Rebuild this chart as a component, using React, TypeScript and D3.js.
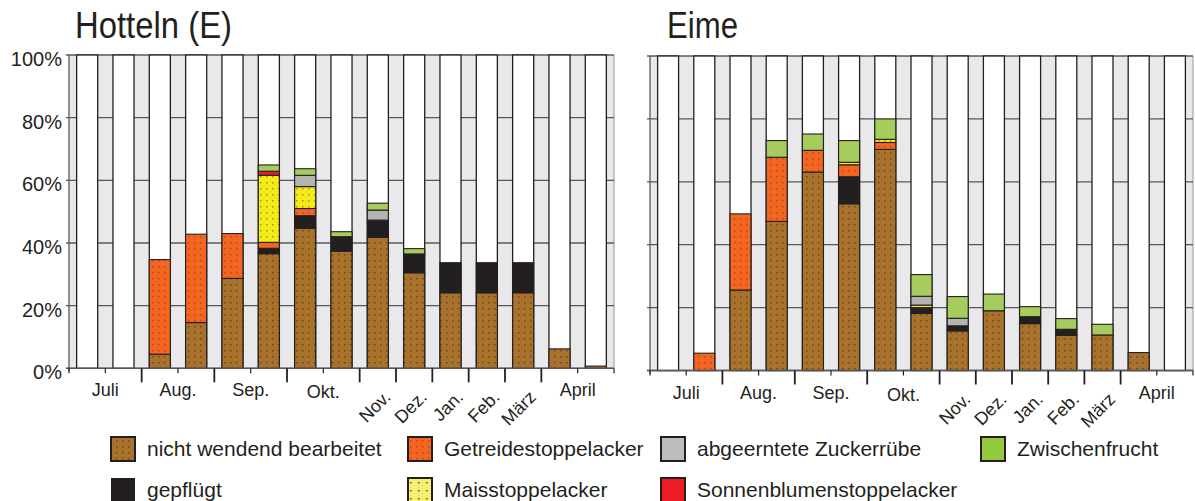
import * as d3 from "d3";
import { useEffect, useRef } from "react";

// 15 half-month bars per site, July .. April
const barIndex = d3.range(15)
const monthNames = ["Juli", "Aug.", "Sep.", "Okt.", "Nov.", "Dez.", "Jan.", "Feb.", "März", "April"]
const monthBars = [2, 2, 2, 2, 1, 1, 1, 1, 1, 2]
const yTicks = [0, 20, 40, 60, 80, 100]

const seriesKeys = ["nwb", "gepfluegt", "getreide", "mais", "sonnenblume", "zuckerruebe", "zwischenfrucht"]
const seriesNames = ["nicht wendend bearbeitet", "gepflügt", "Getreidestoppelacker", "Maisstoppelacker", "Sonnenblumenstoppelacker", "abgeerntete Zuckerrübe", "Zwischenfrucht"]

// Hotteln (E), percent of area
const hottelnNwb = [0, 0, 4.5, 14.6, 28.7, 36.6, 44.7, 37.4, 41.8, 30.5, 24.1, 24.1, 24.1, 6.2, 0.7]
const hottelnGepfluegt = [0, 0, 0, 0, 0, 1.7, 4.0, 4.6, 5.5, 6.0, 9.6, 9.6, 9.6, 0, 0]
const hottelnGetreide = [0, 0, 30.2, 28.2, 14.3, 1.9, 2.3, 0, 0, 0, 0, 0, 0, 0, 0]
const hottelnMais = [0, 0, 0, 0, 0, 21.4, 7.0, 0, 0, 0, 0, 0, 0, 0, 0]
const hottelnSonnenblume = [0, 0, 0, 0, 0, 1.3, 0, 0, 0, 0, 0, 0, 0, 0, 0]
const hottelnZuckerruebe = [0, 0, 0, 0, 0, 0, 3.6, 0, 3.2, 0, 0, 0, 0, 0, 0]
const hottelnZwischenfrucht = [0, 0, 0, 0, 0, 2.0, 2.1, 1.6, 2.2, 1.7, 0, 0, 0, 0, 0]

// Eime
const eimeNwb = [0, 0, 25.6, 47.4, 63.1, 53.0, 70.3, 18.2, 12.6, 19.0, 14.9, 11.2, 11.3, 5.7, 0]
const eimeGepfluegt = [0, 0, 0, 0, 0, 8.6, 0, 1.4, 1.6, 0, 2.2, 1.9, 0, 0, 0]
const eimeGetreide = [0, 5.5, 24.2, 20.4, 6.9, 3.8, 2.2, 0.4, 0, 0, 0, 0, 0, 0, 0]
const eimeMais = [0, 0, 0, 0, 0, 0.8, 1.0, 0.8, 0, 0, 0, 0, 0, 0, 0]
const eimeSonnenblume = [0, 0, 0, 0, 0, 0, 0, 0, 0, 0, 0, 0, 0, 0, 0]
const eimeZuckerruebe = [0, 0, 0, 0, 0, 0, 0, 2.8, 2.4, 0, 0, 0, 0, 0, 0]
const eimeZwischenfrucht = [0, 0, 0, 5.3, 5.2, 6.9, 6.5, 6.9, 6.9, 5.3, 3.2, 3.4, 3.4, 0, 0]

const fills: any = {
    nwb: "url(#patBrown)",
    gepfluegt: "#231f20",
    getreide: "url(#patOrange)",
    mais: "url(#patYellow)",
    sonnenblume: "#ed1c24",
    zuckerruebe: "#b3b3b0",
    zwischenfrucht: "#a5cc5c"
}
const legendFills: any = { ...fills, mais: "url(#patYellowLight)", zuckerruebe: "#bdbdbd", zwischenfrucht: "#93c83f" }

const ink = "#231f20"
const font = "'Liberation Sans', Arial, sans-serif"

function buildRows(cols: number[][]) {
    return barIndex.map(i => {
        const row: any = { i }
        seriesKeys.forEach((k, j) => { row[k] = cols[j][i] })
        return row
    })
}

function drawPanel(svg: any, cfg: any) {
    const g = svg.append("g")
    const x = d3.scaleBand<number>().domain(barIndex).range([cfg.x0, cfg.x1]).paddingInner(0.42).paddingOuter(0.21)
    const y = d3.scaleLinear().domain([0, 100]).range([cfg.yBot, cfg.yTop])
    const step = x.step()

    // background
    g.append("rect").attr("x", cfg.x0).attr("y", cfg.yTop).attr("width", cfg.x1 - cfg.x0).attr("height", cfg.yBot - cfg.yTop)
        .attr("fill", "#e9e9eb")
    g.append("line").attr("x1", cfg.x1).attr("x2", cfg.x1).attr("y1", cfg.yTop).attr("y2", cfg.yBot)
        .attr("stroke", "#a7a7aa").attr("stroke-width", 1.2)

    // gridlines + y ticks
    g.selectAll(".grid").data(yTicks).enter().append("line")
        .attr("x1", cfg.x0 - 3).attr("x2", cfg.x1)
        .attr("y1", d => y(d)).attr("y2", d => y(d))
        .attr("stroke", "#58585a").attr("stroke-width", 1.3)
    if (cfg.showY) {
        g.selectAll(".ylab").data(yTicks).enter().append("text")
            .attr("x", cfg.x0 - 7).attr("y", d => y(d) + 11)
            .attr("text-anchor", "end").attr("font-size", 20).attr("fill", ink)
            .attr("font-family", font)
            .text(d => d + "%")
    }

    // full-height white bars
    g.selectAll(".bg").data(barIndex).enter().append("rect")
        .attr("x", d => x(d)!).attr("width", x.bandwidth())
        .attr("y", y(100)).attr("height", y(0) - y(100))
        .attr("fill", "#fff").attr("stroke", ink).attr("stroke-width", 1.3)

    const stacked = d3.stack().keys(seriesKeys)(buildRows(cfg.cols))
    stacked.forEach((layer: any) => {
        g.selectAll(".seg-" + layer.key).data(layer.filter((d: any) => d[1] - d[0] > 0)).enter().append("rect")
            .attr("x", (d: any) => x(d.data.i)!).attr("width", x.bandwidth())
            .attr("y", (d: any) => y(d[1])).attr("height", (d: any) => y(d[0]) - y(d[1]))
            .attr("fill", fills[layer.key]).attr("stroke", ink).attr("stroke-width", 1.1)
    })

    // y axis line
    g.append("line").attr("x1", cfg.x0).attr("x2", cfg.x0).attr("y1", cfg.yTop).attr("y2", cfg.yBot + 3)
        .attr("stroke", "#58585a").attr("stroke-width", 1.3)
    // x axis
    g.append("line").attr("x1", cfg.x0 - 3).attr("x2", cfg.x1).attr("y1", cfg.yBot).attr("y2", cfg.yBot)
        .attr("stroke", "#58585a").attr("stroke-width", 1.5)

    const bounds = d3.cumsum(monthBars)
    const majors = new Set(Array.from(bounds).slice(0, -1))
    g.selectAll(".xt").data(d3.range(16)).enter().append("line")
        .attr("x1", d => cfg.x0 + d * step).attr("x2", d => cfg.x0 + d * step)
        .attr("y1", cfg.yBot).attr("y2", d => cfg.yBot + (majors.has(d) ? 14 : 5))
        .attr("stroke", ink).attr("stroke-width", d => majors.has(d) ? 1.8 : 1.2)

    monthNames.forEach((m, k) => {
        const start = bounds[k] - monthBars[k]
        const cx = cfg.x0 + (start + monthBars[k] / 2) * step
        if (monthBars[k] > 1) {
            g.append("text").attr("x", cx).attr("y", cfg.yBot + 28 + (m === "Okt." ? 2 : 0))
                .attr("text-anchor", "middle").attr("font-size", 18).attr("fill", ink).attr("font-family", font)
                .text(m)
        } else {
            g.append("text").attr("transform", `translate(${cx + 5},${cfg.yBot + 21}) rotate(-45)`)
                .attr("text-anchor", "end").attr("font-size", 18).attr("fill", ink).attr("font-family", font)
                .attr("dy", "0.7em")
                .text(m)
        }
    })

    svg.append("text").attr("x", cfg.titleX).attr("y", 38).attr("font-size", 37).attr("fill", ink)
        .attr("font-family", font).attr("textLength", cfg.titleW).attr("lengthAdjust", "spacingAndGlyphs")
        .text(cfg.title)
}

function drawLegend(svg: any) {
    const items = [
        { k: "nwb", col: 0, row: 0 }, { k: "getreide", col: 1, row: 0 }, { k: "zuckerruebe", col: 2, row: 0 }, { k: "zwischenfrucht", col: 3, row: 0 },
        { k: "gepfluegt", col: 0, row: 1 }, { k: "mais", col: 1, row: 1 }, { k: "sonnenblume", col: 2, row: 1 }
    ]
    const colX = [110, 407, 660, 980]
    const rowY = [436, 477]
    items.forEach(it => {
        const sx = colX[it.col], sy = rowY[it.row]
        svg.append("rect").attr("x", sx + 1).attr("y", sy + 1).attr("width", 24).attr("height", 24)
            .attr("fill", legendFills[it.k]).attr("stroke", it.k === "gepfluegt" ? "none" : ink).attr("stroke-width", 2)
        svg.append("text").attr("x", sx + 37).attr("y", sy + 20).attr("font-size", 21).attr("fill", ink)
            .attr("font-family", font).text(seriesNames[seriesKeys.indexOf(it.k)])
    })
}

export default function App() {
    const ref = useRef<SVGSVGElement>(null)

    useEffect(() => {
        const svg = d3.select(ref.current)
        svg.selectAll("*").remove()

        const defs = svg.append("defs")
        const pat = (id: string, bg: string, dot: string, size: number) => {
            const p = defs.append("pattern").attr("id", id).attr("patternUnits", "userSpaceOnUse")
                .attr("width", size).attr("height", size)
            p.append("rect").attr("width", size).attr("height", size).attr("fill", bg)
            p.append("rect").attr("x", 2).attr("y", 2).attr("width", 1.5).attr("height", 1.5).attr("fill", dot)
        }
        pat("patBrown", "#a8722c", "#6b4616", 6)
        pat("patOrange", "#f26622", "#b4481b", 6)
        pat("patYellow", "#f3ea1a", "#a79c10", 6)
        pat("patYellowLight", "#f5ee72", "#5a5520", 8)

        drawPanel(svg, {
            title: "Hotteln (E)", titleX: 75, titleW: 157, showY: true,
            x0: 69, x1: 614, yTop: 55, yBot: 368.3,
            cols: [hottelnNwb, hottelnGepfluegt, hottelnGetreide, hottelnMais, hottelnSonnenblume, hottelnZuckerruebe, hottelnZwischenfrucht]
        })
        drawPanel(svg, {
            title: "Eime", titleX: 667, titleW: 71, showY: false,
            x0: 650, x1: 1193, yTop: 56, yBot: 370.5,
            cols: [eimeNwb, eimeGepfluegt, eimeGetreide, eimeMais, eimeSonnenblume, eimeZuckerruebe, eimeZwischenfrucht]
        })
        drawLegend(svg)
    }, [])

    return (
        <svg ref={ref} width={1195} height={501}
            style={{ position: "absolute", left: 0, top: 0, background: "#fff" }}>
        </svg>
    )
}
